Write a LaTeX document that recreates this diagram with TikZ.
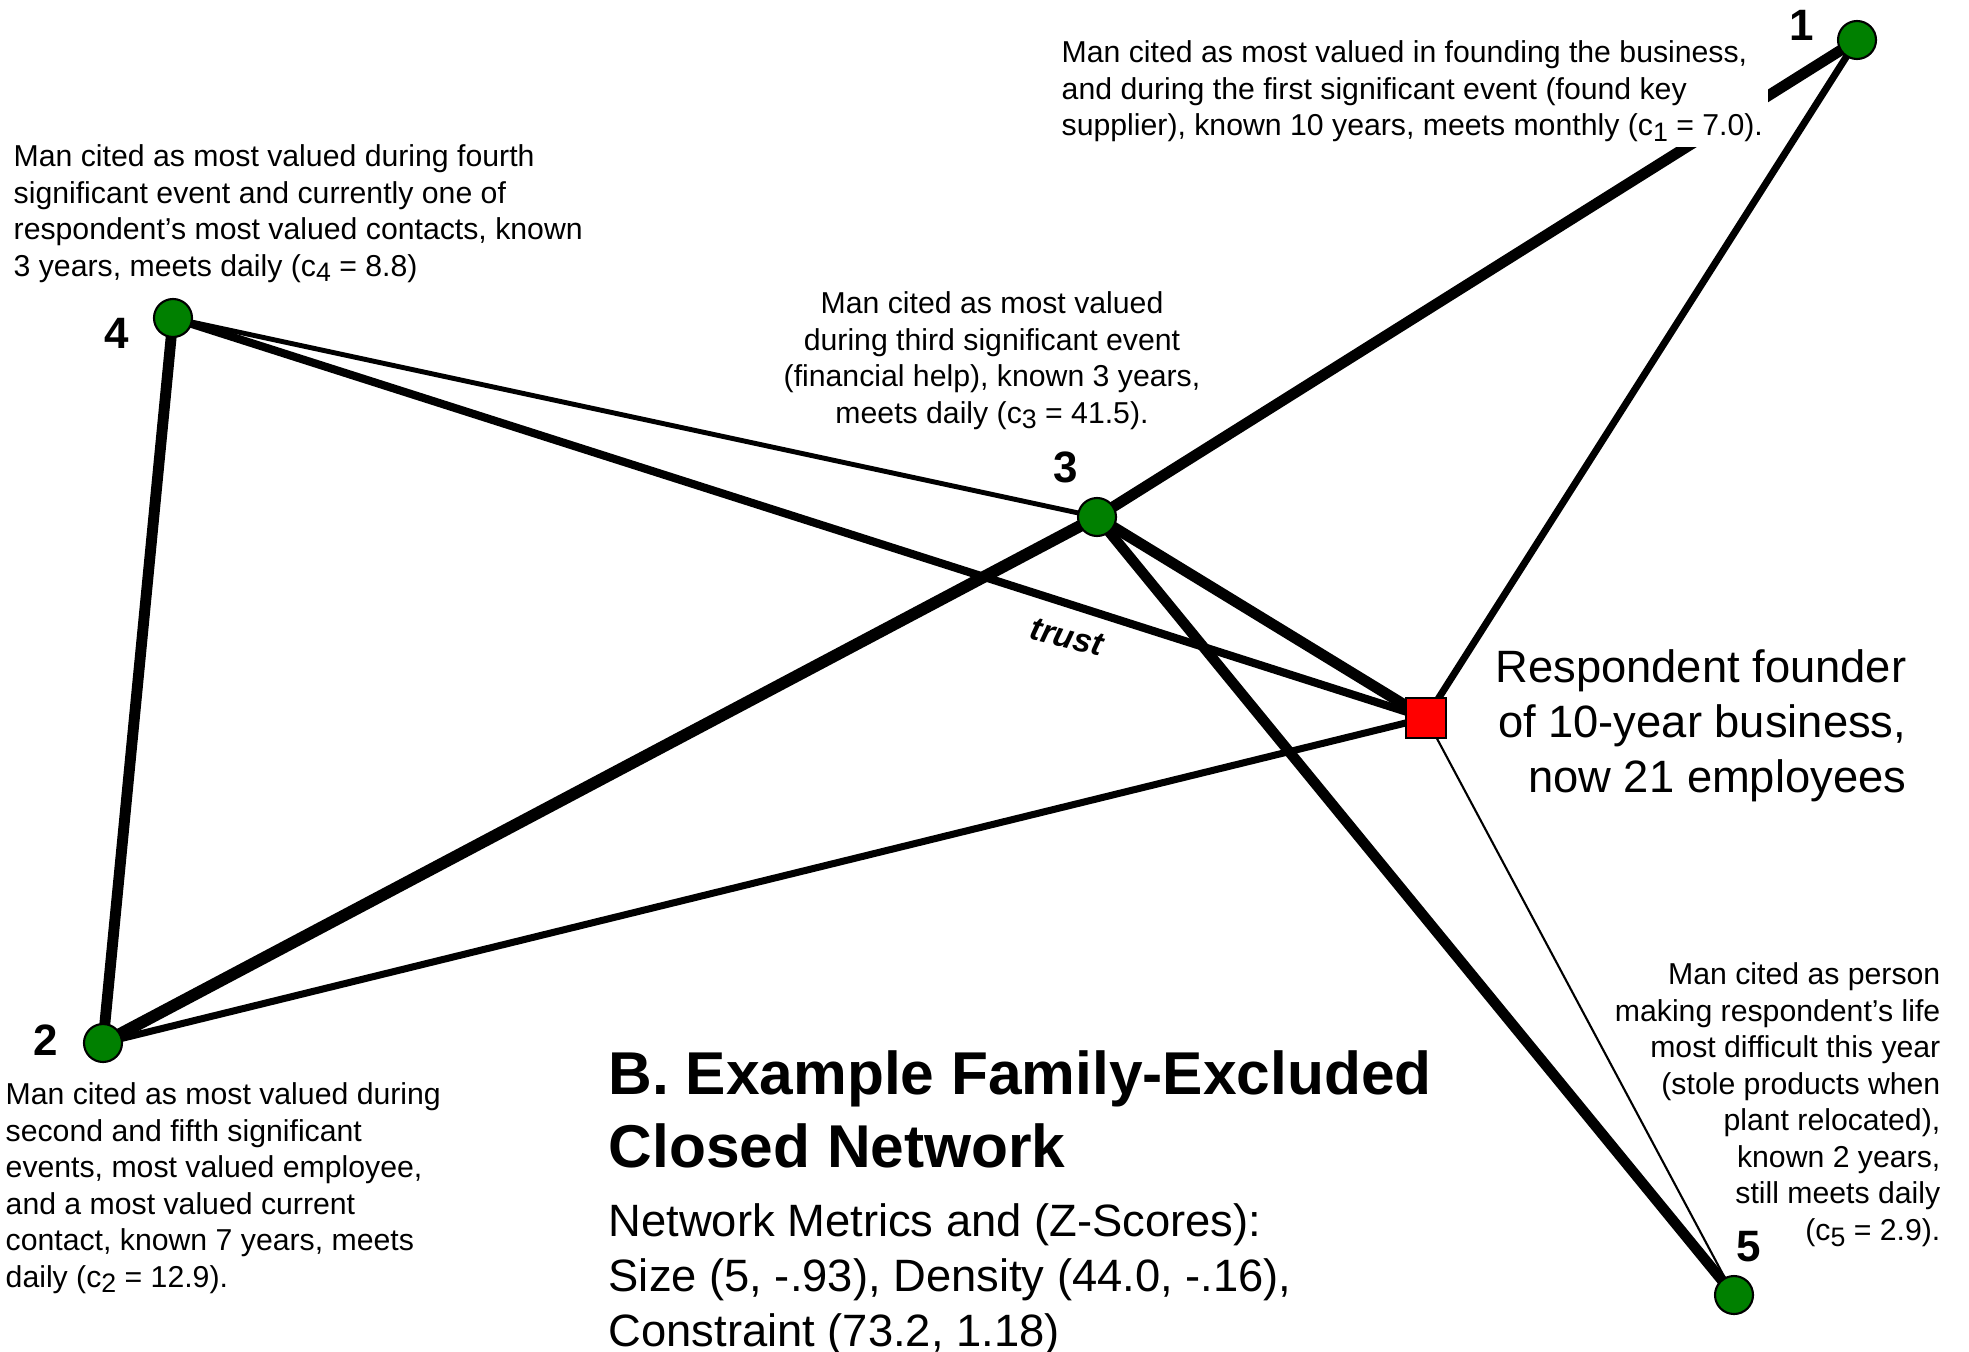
\documentclass[tikz,border=0pt]{standalone}
\usepackage{fontspec}
\setmainfont{Liberation Sans}
\usetikzlibrary{backgrounds}
\newcommand{\csub}[1]{c\raisebox{-0.35ex}{\fontsize{7.6}{8}\selectfont #1}}
\tikzset{
  contact/.style={circle,draw=black,line width=0.6pt,fill=green!50!black,minimum size=0.38cm,inner sep=0pt},
  ego/.style={rectangle,draw=black,line width=0.6pt,fill=red,minimum size=0.40cm,inner sep=0pt},
  num/.style={font=\fontsize{12.5}{15}\selectfont\bfseries,inner sep=0pt},
  note/.style={font=\fontsize{8.6}{10.4}\selectfont,inner sep=0pt},
  bignote/.style={font=\fontsize{12.9}{15.6}\selectfont,inner sep=0pt},
}

\begin{document}
\begin{tikzpicture}
            \useasboundingbox (0,0) rectangle (19.69,-13.51);
            % people
            \node[contact] (n1) at (18.57,-0.40) {};
            \node[contact] (n4) at (1.73,-3.18) {};
            \node[contact] (n3) at (10.97,-5.17) {};
            \node[ego] (ego) at (14.26,-7.18) {};
            \node[contact] (n2) at (1.03,-10.43) {};
            \node[contact] (n5) at (17.34,-12.95) {};
            \node[num] (l1) at (18.02,-0.25) {1};
            \node[num] (l4) at (1.17,-3.33) {4};
            \node[num] (l3) at (10.66,-4.67) {3};
            \node[num] (l2) at (0.46,-10.40) {2};
            \node[num] (l5) at (17.49,-12.47) {5};
            % ties
            \begin{scope}[on background layer]
            \draw[line width=3.1pt] (n1.center) -- (n3.center);
            \draw[line width=3.4pt] (n3.center) -- (n2.center);
            \draw[line width=3.1pt] (n3.center) -- (ego.center);
            \draw[line width=3.0pt] (n3.center) -- (n5.center);
            \draw[line width=3.1pt] (n4.center) -- (n2.center);
            \draw[line width=2.3pt] (n4.center) -- (ego.center);
            \draw[line width=2.0pt] (n1.center) -- (ego.center);
            \draw[line width=2.0pt] (n2.center) -- (ego.center);
            \draw[line width=1.4pt] (n4.center) -- (n3.center);
            \draw[line width=0.6pt] (ego.center) -- (n5.center);
            \end{scope}
            \node[rotate=-14,font=\fontsize{9.5}{11}\selectfont\bfseries\itshape] (trust) at (10.67,-6.37) {trust};
            % notes
            \node[note,anchor=north west,align=left,fill=white,inner sep=0.05cm] (t1) at (10.56,-0.35) {Man cited as most valued in founding the business,\\and during the first significant event (found key\\supplier), known 10 years, meets monthly (\csub{1} = 7.0).};
            \node[note,anchor=north west,align=left] (t4) at (0.13,-1.44) {Man cited as most valued during fourth\\significant event and currently one of\\respondent’s most valued contacts, known\\3 years, meets daily (\csub{4} = 8.8)};
            \node[note,anchor=north,align=center] (t3) at (9.92,-2.91) {Man cited as most valued\\during third significant event\\(financial help), known 3 years,\\meets daily (\csub{3} = 41.5).};
            \node[note,anchor=north west,align=left] (t2) at (0.05,-10.82) {Man cited as most valued during\\second and fifth significant\\events, most valued employee,\\and a most valued current\\contact, known 7 years, meets\\daily (\csub{2} = 12.9).};
            \node[note,anchor=north east,align=right] (t5) at (19.41,-9.62) {Man cited as person\\making respondent’s life\\most difficult this year\\(stole products when\\plant relocated),\\known 2 years,\\still meets daily\\(\csub{5} = 2.9).};
            \node[bignote,anchor=north east,align=right] (tego) at (19.07,-6.49) {Respondent founder\\of 10-year business,\\now 21 employees};
            \node[anchor=north west,align=left,inner sep=0pt,font=\fontsize{17.2}{20.8}\selectfont\bfseries] (title) at (6.08,-10.50) {B. Example Family-Excluded\\Closed Network};
            \node[bignote,anchor=north west,align=left] (metrics) at (6.08,-12.03) {Network Metrics and (Z-Scores):\\Size (5, -.93), Density (44.0, -.16),\\Constraint (73.2, 1.18)};
        \end{tikzpicture}
\end{document}
